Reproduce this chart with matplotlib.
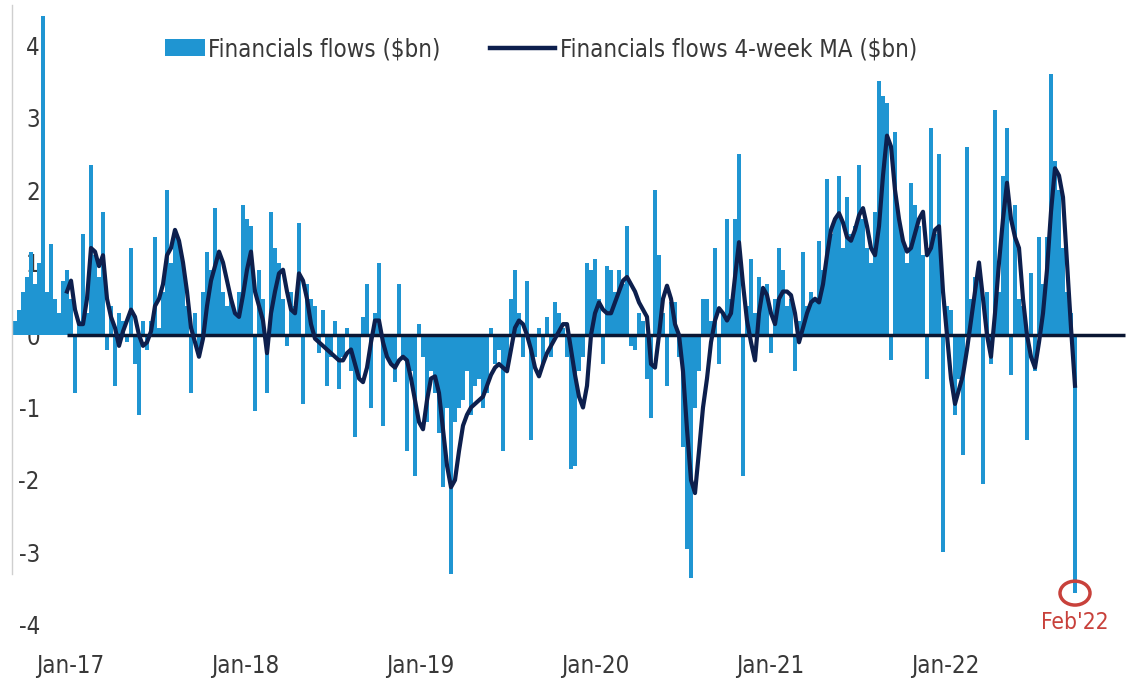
import matplotlib
matplotlib.use('Agg')
import matplotlib.pyplot as plt
from matplotlib.patches import Ellipse, Patch
from matplotlib.lines import Line2D
from matplotlib import font_manager
import numpy as np

# ---- data (weekly, $bn) ----
flows = [
    0.2, 0.35, 0.6, 0.8, 1.15, 0.7, 1.0, 4.4, 0.6, 1.25, 0.5, 0.3, 0.75,
    0.9, 0.5, -0.8, 0.2, 1.4, 0.3, 2.35, 1.1, 0.8, 1.7, -0.2, 0.4, -0.7,
    0.3, 0.2, -0.1, 1.2, -0.4, -1.1, 0.2, -0.2, 0.2, 1.35, 0.1, 0.6, 2.0,
    1.0, 1.4, 1.3, 1.0, 0.4, -0.8, 0.3, -0.3, 0.6, 1.15, 0.9, 1.75, 1.1,
    0.6, 0.4, 0.5, 0.3, 0.6, 1.8, 1.6, 1.5, -1.05, 0.9, 0.5, -0.8, 1.7,
    1.2, 1.0, 0.5, -0.15, 0.6, 0.4, 1.55, -0.95, 0.7, 0.5, 0.4, -0.25, 0.35,
    -0.7, -0.3, 0.2, -0.75, -0.3, 0.1, -0.5, -1.4, -0.6, 0.25, 0.7,
    -1.0, 0.3, 1.0, -1.25, -0.3, -0.4, -0.65, 0.7, -0.3, -1.6, -0.5, -1.95,
    0.15, -0.3, -1.2, -0.5, -0.8, -1.35, -2.1, -1.0, -3.3, -1.2, -1.0, -0.9,
    -0.5, -1.1, -0.7, -0.6, -1.0, -0.8, 0.1, -0.4, -0.2, -1.6, -0.5, 0.5,
    0.9, 0.3, -0.3, 0.75, -1.45, -0.3, 0.1, -0.4, 0.25, -0.3, 0.45, 0.3,
    0.1, -0.3, -1.85, -1.8, -0.5, -0.3, 1.0, 0.9, 1.05, 0.5, -0.4, 0.95,
    0.9, 0.6, 0.9, 0.7, 1.5, -0.15, -0.2, 0.3, 0.2, -0.6, -1.15, 2.0,
    1.1, 0.3, -0.7, 0.45, 0.45, -0.3, -1.55, -2.95, -3.35, -1.0, -0.5, 0.5,
    0.5, 0.2, 1.2, -0.4, 0.3, 1.6, 0.5, 1.6, 2.5, -1.95, 0.4, 1.05,
    0.3, 0.8, 0.6, 0.7, -0.25, 0.5, 1.2, 0.9, 0.4, 0.5, -0.5, 0.2,
    1.15, 0.4, 0.6, 0.5, 1.3, 0.9, 2.15, 1.4, 1.6, 2.2, 1.2, 1.9,
    1.4, 1.5, 2.35, 1.6, 1.2, 1.0, 1.7, 3.5, 3.3, 3.2, -0.35, 2.8,
    1.6, 1.3, 1.0, 2.1, 1.8, 1.5, 1.1, -0.6, 2.85, 1.4, 2.5, -3.0,
    0.4, 0.35, -1.1, -0.6, -1.65, 2.6, 0.5, 0.8, 1.0, -2.05, 0.6, -0.4,
    3.1, 0.6, 2.2, 2.85, -0.55, 1.8, 0.5, 0.4, -1.45, 0.85, -0.5, 1.35,
    0.7, 1.35, 3.6, 2.4, 2.0, 1.2, 0.6, 0.3, -3.56,
]

ma_start = 13
ma_4wk = [
    0.6, 0.75, 0.35, 0.15, 0.15, 0.5, 1.2, 1.15, 0.95, 1.1, 0.5, 0.25, 0.1,
    -0.15, 0.05, 0.2, 0.35, 0.25, 0.0, -0.15, -0.1, 0.05, 0.4, 0.5, 0.7, 1.1,
    1.2, 1.45, 1.3, 1.0, 0.6, 0.1, -0.1, -0.3, -0.05, 0.4, 0.75, 0.95, 1.15,
    1.0, 0.75, 0.5, 0.3, 0.25, 0.55, 0.9, 1.15, 0.6, 0.4, 0.2, -0.25, 0.3,
    0.6, 0.85, 0.9, 0.6, 0.35, 0.3, 0.85, 0.75, 0.5, 0.15, -0.05, -0.1, -0.15,
    -0.2, -0.25, -0.3, -0.35, -0.35, -0.25, -0.2, -0.4, -0.6, -0.65, -0.45,
    -0.1, 0.2, 0.2, -0.1, -0.3, -0.4, -0.45, -0.35, -0.3, -0.35, -0.6, -0.9,
    -1.2, -1.3, -0.9, -0.6, -0.57, -0.8, -1.3, -1.8, -2.1, -2.0, -1.6, -1.25,
    -1.1, -1.0, -0.95, -0.9, -0.85, -0.7, -0.55, -0.45, -0.4, -0.45, -0.5, -0.2,
    0.1, 0.2, 0.15, 0.0, -0.2, -0.45, -0.57, -0.4, -0.25, -0.15, -0.05, 0.05,
    0.15, 0.15, -0.2, -0.55, -0.85, -1.0, -0.7, 0.0, 0.3, 0.45, 0.35, 0.3,
    0.3, 0.45, 0.6, 0.75, 0.8, 0.7, 0.6, 0.45, 0.35, 0.25, -0.4, -0.45,
    0.0, 0.5, 0.68, 0.5, 0.15, 0.0, -0.5, -1.3, -2.0, -2.18, -1.6, -1.0,
    -0.6, -0.1, 0.2, 0.37, 0.3, 0.2, 0.3, 0.8, 1.28, 0.7, 0.2, -0.1,
    -0.35, 0.3, 0.65, 0.55, 0.3, 0.15, 0.5, 0.6, 0.6, 0.55, 0.3, -0.1,
    0.1, 0.3, 0.45, 0.5, 0.45, 0.7, 1.1, 1.45, 1.6, 1.68, 1.55, 1.35,
    1.3, 1.45, 1.65, 1.75, 1.5, 1.2, 1.1, 1.5, 2.2, 2.75, 2.6, 2.0,
    1.6, 1.3, 1.15, 1.2, 1.4, 1.6, 1.7, 1.1, 1.2, 1.45, 1.5, 0.6,
    0.0, -0.6, -0.95, -0.75, -0.55, -0.2, 0.2, 0.6, 1.0, 0.5, 0.0, -0.3,
    0.3, 1.0, 1.6, 2.1, 1.6, 1.35, 1.2, 0.5, 0.0, -0.3, -0.45, -0.1,
    0.3, 0.9, 1.7, 2.3, 2.2, 1.9, 1.0, 0.1, -0.7,
]

x_labels = ["Jan-17", "Jan-18", "Jan-19", "Jan-20", "Jan-21", "Jan-22"]
x_label_pos = [13.75, 57.5, 101.25, 145.0, 188.75, 232.5]
y_ticks = [-4, -3, -2, -1, 0, 1, 2, 3, 4]
bar_label = "Financials flows ($bn)"
ma_label = "Financials flows 4-week MA ($bn)"
callout = "Feb'22"

# ---- font: prefer a condensed face, scale size to keep the text widths ----
entries = font_manager.fontManager.ttflist
names = {f.name for f in entries}
if 'Liberation Sans Narrow' in names:
    fam, stretch, scale = 'Liberation Sans Narrow', 'normal', 1.0
elif any(f.name == 'DejaVu Sans' and str(f.stretch) in ('condensed', 'semi-condensed')
         for f in entries):
    fam, stretch, scale = 'DejaVu Sans', 'condensed', 0.86
else:
    fam, stretch, scale = 'DejaVu Sans', 'normal', 0.77
plt.rcParams['font.family'] = [fam, 'DejaVu Sans']
plt.rcParams['font.stretch'] = stretch
plt.rcParams['axes.unicode_minus'] = False
FS = 20 * scale

BAR = '#1f95d2'
NAVY = '#0d1f4d'
RED = '#c8413b'
TXT = '#383838'

W, H = 1134, 681
fig = plt.figure(figsize=(W / 100, H / 100), dpi=100)
ax = fig.add_axes([12 / W, 41 / H, (1130 - 12) / W, (640 - 5) / H])

x = np.arange(len(flows))
ax.bar(x, flows, width=0.8, color=BAR, linewidth=0, zorder=2)
ax.hlines(0, ma_start, 277.5, color='#0a1632', lw=2.5, zorder=3)
ma_x = np.arange(ma_start, ma_start + len(ma_4wk))
ax.plot(ma_x, ma_4wk, color=NAVY, lw=3.0, zorder=4, solid_joinstyle='round')

ax.set_xlim(-0.75, 278.75)
ax.set_ylim(-4.207, 4.552)
ax.set_axisbelow(True)

for s in ['top', 'right', 'bottom']:
    ax.spines[s].set_visible(False)
ax.spines['left'].set_color('#cfcfcf')
ax.spines['left'].set_linewidth(1)
ax.spines['left'].set_bounds(-3.3, 4.55)

ax.set_yticks(y_ticks)
ax.set_yticklabels([str(v) for v in y_ticks])
ax.tick_params(axis='y', length=0, pad=-20, labelsize=FS, labelcolor=TXT)
ax.set_xticks(x_label_pos)
ax.set_xticklabels(x_labels)
ax.tick_params(axis='x', length=0, pad=10, labelsize=FS, labelcolor=TXT)

# Feb'22 callout
last = len(flows) - 1
ax.add_patch(Ellipse((last, flows[-1]), width=7.5, height=0.33, fill=False,
                     edgecolor=RED, lw=2.5, zorder=5))
ax.text(last, -3.96, callout, ha='center', va='center', color=RED, fontsize=FS * 0.95)

# legends
y_leg = 1 - 49 / H
leg1 = ax.legend(handles=[Patch(facecolor=BAR, label=bar_label)],
                 loc='center left', bbox_to_anchor=(165 / W, y_leg),
                 bbox_transform=fig.transFigure, frameon=False, fontsize=FS,
                 handlelength=40 / (FS * 1.389), handleheight=18 / (FS * 1.389),
                 handletextpad=3 / (FS * 1.389),
                 borderpad=0, borderaxespad=0, labelcolor=TXT)
ax.add_artist(leg1)
ax.legend(handles=[Line2D([], [], color=NAVY, lw=3.2, label=ma_label)],
          loc='center left', bbox_to_anchor=(490 / W, y_leg),
          bbox_transform=fig.transFigure, frameon=False, fontsize=FS,
          handlelength=65 / (FS * 1.389), handletextpad=5 / (FS * 1.389),
          borderpad=0, borderaxespad=0, labelcolor=TXT)

fig.savefig('out.png', dpi=100)
